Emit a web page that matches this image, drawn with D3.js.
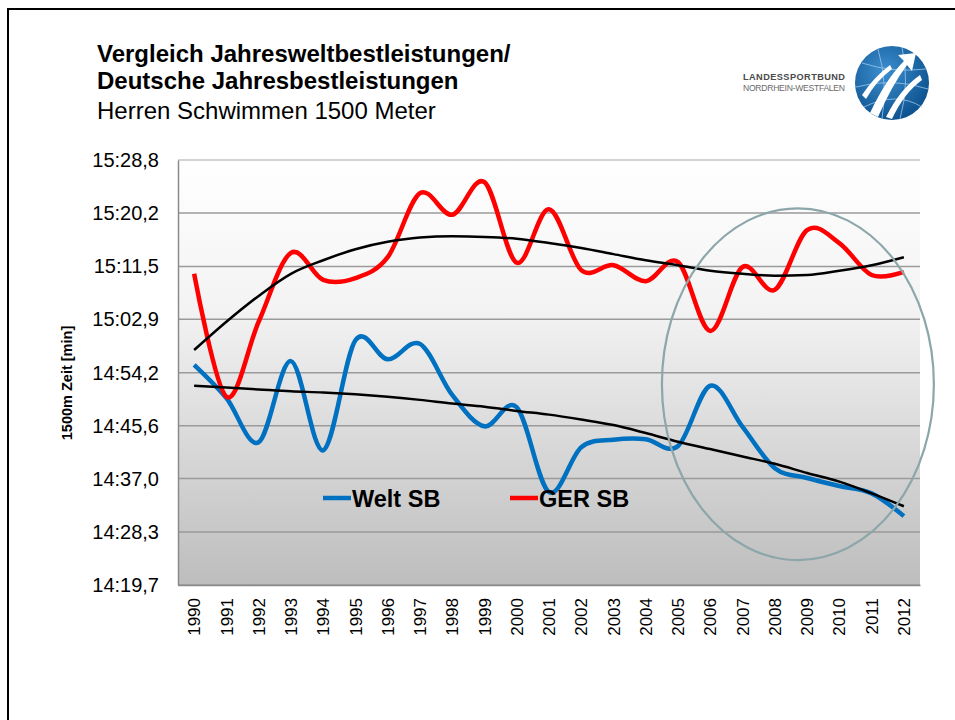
<!DOCTYPE html>
<html>
<head>
<meta charset="utf-8">
<script src="https://cdn.jsdelivr.net/npm/d3@7"></script>
<style>
  body { margin: 0; background: #fff; }
  svg { display: block; font-family: "Liberation Sans", Arial, sans-serif; }
</style>
</head>
<body>
<script>
// years on the x axis
var years = ["1990","1991","1992","1993","1994","1995","1996","1997","1998","1999","2000",
             "2001","2002","2003","2004","2005","2006","2007","2008","2009","2010","2011","2012"];

// times in seconds
var weltSB = [895.5, 890.1, 882.9, 896.1, 881.6, 899.5, 896.4, 898.9, 890.6, 885.5, 888.6,
              874.8, 882.1, 883.3, 883.4, 882.3, 892.1, 885.4, 878.7, 877.1, 875.8, 874.6, 870.9];
var gerSB  = [910.3, 890.3, 902.5, 913.7, 909.3, 909.6, 913.0, 923.4, 919.9, 925.2, 912.1,
              920.8, 910.9, 911.7, 909.1, 912.2, 901.0, 911.4, 907.7, 917.4, 915.3, 910.1, 910.6];

// polynomial trend lines as drawn in the picture
var weltTrend = [892.1, 891.8, 891.5, 891.2, 891.0, 890.7, 890.3, 889.8, 889.2, 888.7, 888.0,
                 887.4, 886.6, 885.7, 884.4, 883.0, 881.8, 880.6, 879.4, 877.9, 876.5, 874.6, 872.5];
var gerTrend  = [897.9, 902.5, 906.7, 910.3, 912.5, 914.3, 915.5, 916.2, 916.4, 916.3, 916.0,
                 915.3, 914.5, 913.5, 912.5, 911.7, 910.8, 910.3, 910.0, 910.1, 910.8, 911.7, 913.0];

var yTickLabels = ["14:19,7","14:28,3","14:37,0","14:45,6","14:54,2","15:02,9","15:11,5","15:20,2","15:28,8"];

var toSec = function(s){
  var p = s.split(":");
  return +p[0]*60 + parseFloat(p[1].replace(",", "."));
};
var yTickValues = yTickLabels.map(toSec);

var W = 955, H = 720;
var plot = {left: 178, right: 920, top: 160, bottom: 585};

var svg = d3.select("body").append("svg")
    .attr("width", W)
    .attr("height", H);

var defs = svg.append("defs");

var bg = defs.append("linearGradient")
    .attr("id", "plotbg")
    .attr("x1", 0).attr("y1", 0).attr("x2", 0).attr("y2", 1);
bg.append("stop").attr("offset", "0%").attr("stop-color", "#ffffff");
bg.append("stop").attr("offset", "35%").attr("stop-color", "#f3f3f3");
bg.append("stop").attr("offset", "65%").attr("stop-color", "#dadada");
bg.append("stop").attr("offset", "100%").attr("stop-color", "#bdbdbd");

var logoGrad = defs.append("radialGradient")
    .attr("id", "logobg")
    .attr("cx", "40%").attr("cy", "35%").attr("r", "70%");
logoGrad.append("stop").attr("offset", "0%").attr("stop-color", "#3d8fd0");
logoGrad.append("stop").attr("offset", "100%").attr("stop-color", "#0b4f8c");

// slide frame
svg.append("path")
    .attr("d", "M8," + H + " L8,9 L" + W + ",9")
    .attr("fill", "none")
    .attr("stroke", "#000")
    .attr("stroke-width", 2);

// titles
var title = svg.append("g").attr("transform", "translate(97,0)");
title.append("text").attr("y", 62).attr("font-size", 24).attr("font-weight", "bold")
    .text("Vergleich Jahresweltbestleistungen/");
title.append("text").attr("y", 89).attr("font-size", 24).attr("font-weight", "bold")
    .text("Deutsche Jahresbestleistungen");
title.append("text").attr("y", 119).attr("font-size", 24)
    .text("Herren Schwimmen 1500 Meter");

// logo
var logo = svg.append("g");
logo.append("text").attr("x", 743).attr("y", 80)
    .attr("font-size", 9.2).attr("font-weight", "bold").attr("fill", "#4a4a4a")
    .attr("textLength", 102)
    .text("LANDESSPORTBUND");
logo.append("text").attr("x", 743).attr("y", 91)
    .attr("font-size", 8.6).attr("fill", "#6a6a6a")
    .attr("textLength", 102)
    .text("NORDRHEIN-WESTFALEN");
var lg = logo.append("g").attr("transform", "translate(892,83)");
lg.append("circle").attr("r", 37).attr("fill", "url(#logobg)");
[["M-30,-20 Q0,-10 34,-14"], ["M-36,4 Q0,-6 36,6"], ["M-28,24 Q4,8 30,24"],
 ["M-14,-34 Q-4,0 -10,36"], ["M10,-36 Q18,0 8,36"]].forEach(function(d){
  lg.append("path").attr("d", d[0]).attr("fill", "none")
    .attr("stroke", "#9cc7ea").attr("stroke-width", 1).attr("opacity", 0.8);
});
lg.append("path")
    .attr("d", "M-22,30 Q-6,-4 12,-22 L6,-28 L24,-30 L20,-12 L15,-18 Q0,2 -14,34 Z")
    .attr("fill", "#ffffff");
lg.append("path")
    .attr("d", "M-6,34 Q8,6 28,-8 L30,-3 Q12,10 0,36 Z")
    .attr("fill", "#ffffff");
lg.append("path")
    .attr("d", "M-30,12 Q-18,-6 -2,-18 L0,-14 Q-16,-2 -26,16 Z")
    .attr("fill", "#ffffff");

// scales
var x = d3.scaleBand()
    .domain(years)
    .range([plot.left, plot.right]);

var y = d3.scaleLinear()
    .domain([yTickValues[0], yTickValues[yTickValues.length - 1]])
    .range([plot.bottom, plot.top]);

var xc = function(d, i){ return x(years[i]) + x.bandwidth()/2; };

// plot background
svg.append("rect")
    .attr("x", plot.left).attr("y", plot.top)
    .attr("width", plot.right - plot.left)
    .attr("height", plot.bottom - plot.top)
    .attr("fill", "url(#plotbg)");

// gridlines
svg.append("g")
  .selectAll("line")
  .data(yTickValues)
  .enter().append("line")
    .attr("x1", plot.left).attr("x2", plot.right)
    .attr("y1", function(d){ return y(d); })
    .attr("y2", function(d){ return y(d); })
    .attr("stroke", function(d, i){ return i == yTickValues.length - 1 ? "#c4c4c4" : "#9a9a9a"; })
    .attr("stroke-width", 1.5);

// Y-axis
var yAxis = svg.append("g")
    .attr("transform", "translate(" + plot.left + ",0)")
    .call(d3.axisLeft(y)
        .tickValues(yTickValues)
        .tickSize(0)
        .tickPadding(19)
        .tickFormat(function(d, i){ return yTickLabels[i]; }));
yAxis.select(".domain").attr("stroke", "#8a8a8a").attr("stroke-width", 1.5);
yAxis.selectAll("text")
    .attr("font-size", 20)
    .attr("font-family", "Liberation Sans, Arial, sans-serif")
    .attr("fill", "#000");

// X-axis
var xAxis = svg.append("g")
    .attr("transform", "translate(0," + plot.bottom + ")")
    .call(d3.axisBottom(x).tickSize(0).tickPadding(0));
xAxis.select(".domain").attr("stroke", "#8a8a8a").attr("stroke-width", 1.5);
xAxis.selectAll("text")
    .attr("font-size", 17)
    .attr("font-family", "Liberation Sans, Arial, sans-serif")
    .attr("fill", "#000")
    .attr("transform", "rotate(-90)")
    .attr("text-anchor", "end")
    .attr("x", -13)
    .attr("y", 0)
    .attr("dy", "0.36em");

svg.append("text")
    .attr("transform", "translate(72," + 383 + ") rotate(-90)")
    .attr("text-anchor", "middle")
    .attr("font-size", 14.5)
    .attr("font-weight", "bold")
    .text("1500m Zeit [min]");

// lines
var smooth = d3.line()
    .x(xc)
    .y(function(d){ return y(d); })
    .curve(d3.curveCardinal.tension(0));

var trend = d3.line()
    .x(xc)
    .y(function(d){ return y(d); })
    .curve(d3.curveMonotoneX);

svg.append("path")
    .datum(weltSB)
    .attr("d", smooth)
    .attr("fill", "none")
    .attr("stroke", "#0070c0")
    .attr("stroke-width", 4.5)
    .attr("stroke-linejoin", "round");

svg.append("path")
    .datum(gerSB)
    .attr("d", smooth)
    .attr("fill", "none")
    .attr("stroke", "#ff0000")
    .attr("stroke-width", 4.5)
    .attr("stroke-linejoin", "round");

[weltTrend, gerTrend].forEach(function(t){
  svg.append("path")
      .datum(t)
      .attr("d", trend)
      .attr("fill", "none")
      .attr("stroke", "#000")
      .attr("stroke-width", 2.5);
});

// legend
var legend = [{name: "Welt SB", color: "#0070c0", x: 323}, {name: "GER SB", color: "#ff0000", x: 510}];
var lgd = svg.append("g").selectAll("g")
    .data(legend)
    .enter().append("g")
    .attr("transform", function(d){ return "translate(" + d.x + ",498)"; });
lgd.append("line")
    .attr("x1", 0).attr("x2", 28)
    .attr("stroke", function(d){ return d.color; })
    .attr("stroke-width", 4.5);
lgd.append("text")
    .attr("x", 29).attr("y", 8.5)
    .attr("font-size", 23.5)
    .attr("font-weight", "bold")
    .text(function(d){ return d.name; });

// highlight ellipse round the last years (data units)
var yearX = function(yr){ return xc(null, 0) + (yr - 1990) * x.step(); };
var ring = {from: 2004.5, to: 2012.93, hi: 920.95, lo: 863.75};
svg.append("ellipse")
    .attr("cx", (yearX(ring.from) + yearX(ring.to)) / 2)
    .attr("cy", (y(ring.hi) + y(ring.lo)) / 2)
    .attr("rx", (yearX(ring.to) - yearX(ring.from)) / 2)
    .attr("ry", (y(ring.lo) - y(ring.hi)) / 2)
    .attr("fill", "none")
    .attr("stroke", "#8ca6a9")
    .attr("stroke-width", 2.2);
</script>
</body>
</html>
